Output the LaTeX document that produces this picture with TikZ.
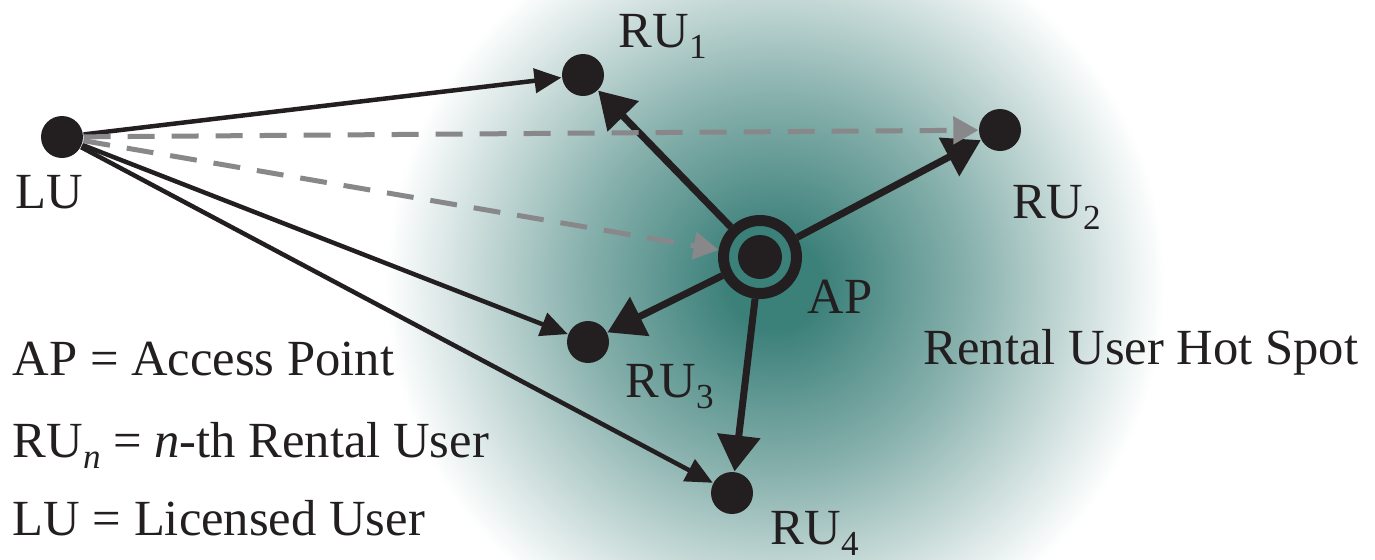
\documentclass[tikz,border=0pt]{standalone}
\usepackage{fontspec}
\setmainfont{Liberation Serif}
\usetikzlibrary{positioning,arrows.meta}
\definecolor{spotteal}{RGB}{60,128,122}
\definecolor{spotmid}{RGB}{136,177,173}
\definecolor{dashgray}{RGB}{136,136,139}
\definecolor{dotblack}{RGB}{35,31,32}
\pgfdeclareradialshading{hotspot}{\pgfpoint{0bp}{0bp}}{color(0bp)=(spotteal); color(3bp)=(spotteal); color(12.5bp)=(spotmid); color(25bp)=(white); color(50bp)=(white)}
\tikzset{font=\fontsize{14.4}{17}\selectfont}
\newcommand{\RUsub}[1]{RU\raisebox{-3.4pt}{\fontsize{10}{10}\selectfont #1}}

\begin{document}
\begin{tikzpicture}[
	dot/.style={circle, fill=dotblack, inner sep=0pt, minimum size=0.42cm},
	lbl/.style={anchor=base west, inner sep=0pt, text=dotblack},
	link/.style={-{Triangle[length=0.27cm,width=0.24cm]}, line width=0.045cm, draw=dotblack},
	feed/.style={-{Triangle[length=0.36cm,width=0.42cm]}, line width=0.07cm, draw=dotblack},
	probe/.style={-{Triangle[length=0.25cm,width=0.27cm]}, line width=0.05cm, draw=dashgray, dash pattern=on 0.27cm off 0.17cm}]
	\useasboundingbox (0,0) rectangle (13.75,5.59);
	\begin{scope}
		\clip (0,0) rectangle (13.75,5.59);
		\shade[shading=hotspot] (7.75,2.75) ellipse (3.9 and 3.8);
	\end{scope}

	% users and access point
	\node[dot] (lu) at (0.62, 4.22) {};
	\node[dot] (ru1) at (5.83, 4.84) {};
	\node[dot] (ru2) at (10.00, 4.29) {};
	\node[dot] (ru3) at (5.88, 2.17) {};
	\node[dot] (ru4) at (7.32, 0.66) {};
	\node[circle, draw=dotblack, fill=spotteal, line width=0.11cm, inner sep=0pt,
		minimum size=0.73cm, outer sep=0.055cm] (ap) at (7.60, 3.02) {};
	\node[dot, minimum size=0.44cm] (apc) at (ap) {};

	% links
	\foreach \r in {ru1,ru2,ru3,ru4}
		\draw[feed] (ap) -- (\r);
	\draw[link] (lu) -- (ru1);
	\draw[link] (lu) -- (ru3);
	\draw[link] (lu) -- (ru4);
	\draw[probe] (lu) -- (ru2);
	\draw[probe] (lu) -- (ap);

	% labels
	\node[lbl] (lul) at (0.15, 3.51) {LU};
	\node[lbl] (ru1l) at (6.18, 5.12) {\RUsub{1}};
	\node[lbl] (ru2l) at (10.12, 3.41) {\RUsub{2}};
	\node[lbl] (ru3l) at (6.25, 1.62) {\RUsub{3}};
	\node[lbl] (ru4l) at (7.70, 0.15) {\RUsub{4}};
	\node[lbl] (apl) at (8.07, 2.46) {AP};
	\node[lbl] (spot) at (9.23, 1.95) {Rental User Hot Spot};

	% legend
	\node[lbl] (key1) at (0.12, 1.84) {AP = Access Point};
	\node[lbl] (key2) at (0.12, 1.02) {\RUsub{\itshape n} = \textit{n}-th Rental User};
	\node[lbl] (key3) at (0.12, 0.24) {LU = Licensed User};
\end{tikzpicture}
\end{document}
